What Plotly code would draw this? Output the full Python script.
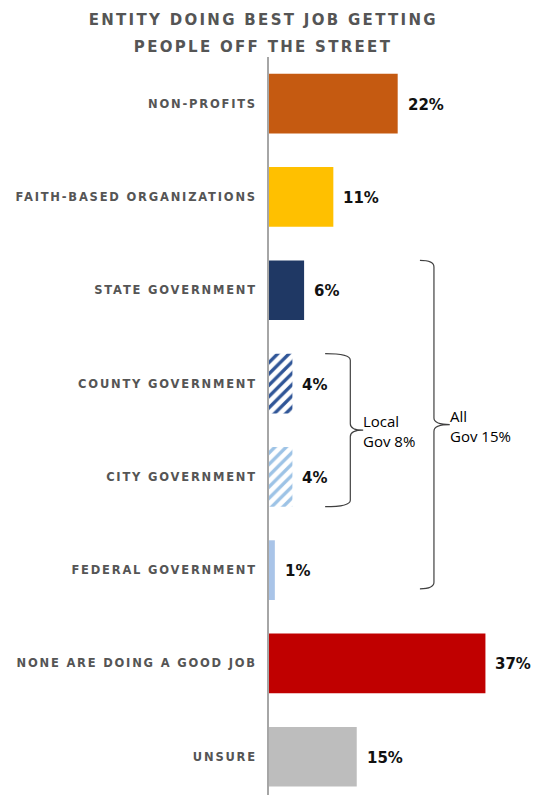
import plotly.graph_objects as go

# Survey: which entity is doing the best job getting people off the street
categories = [
    "NON-PROFITS",
    "FAITH-BASED ORGANIZATIONS",
    "STATE GOVERNMENT",
    "COUNTY GOVERNMENT",
    "CITY GOVERNMENT",
    "FEDERAL GOVERNMENT",
    "NONE ARE DOING A GOOD JOB",
    "UNSURE",
]
shares = [22, 11, 6, 4, 4, 1, 37, 15]
value_labels = ["22%", "11%", "6%", "4%", "4%", "1%", "37%", "15%"]

bar_colors = ["#C55A11", "#FFC000", "#1F3864", "#2F5597", "#9DC3E6",
              "#A9C4E8", "#C00000", "#BDBDBD"]
hatched = [False, False, False, True, True, False, False, False]

# Bracket groups: (first index, last index, label)
local_gov = (3, 4, "Local<br>Gov 8%")
all_gov = (2, 5, "All<br>Gov 15%")

title_lines = ["ENTITY DOING BEST JOB GETTING", "PEOPLE OFF THE STREET"]

GRAY = "#555555"
positions = list(range(len(categories)))
BAR_W = 0.64

fig = go.Figure()
for pos, val, color, is_hatched in zip(positions, shares, bar_colors, hatched):
    marker = dict(color=color, line=dict(width=0))
    if is_hatched:
        marker = dict(
            color="white",
            line=dict(width=0),
            pattern=dict(shape="/", fgcolor=color, bgcolor="white",
                         size=8, solidity=0.42, fillmode="replace"),
        )
    fig.add_trace(go.Bar(x=[val], y=[pos], orientation="h", width=BAR_W,
                         marker=marker, hoverinfo="skip"))

# Value labels just past the end of each bar
for pos, val, lab in zip(positions, shares, value_labels):
    fig.add_annotation(x=val, y=pos, xref="x", yref="y", text=lab,
                       showarrow=False, xanchor="left", yanchor="middle",
                       xshift=8, yshift=-1,
                       font=dict(family="DejaVu Sans", size=15,
                                 color="#111111", weight="bold"))


def brace_path(y_top, y_bot, x_tail, x_line, x_tip, r=0.07):
    y_mid = (y_top + y_bot) / 2
    return (
        f"M {x_tail},{y_top} Q {x_line},{y_top} {x_line},{y_top + r} "
        f"L {x_line},{y_mid - r} Q {x_line},{y_mid} {x_tip},{y_mid} "
        f"Q {x_line},{y_mid} {x_line},{y_mid + r} "
        f"L {x_line},{y_bot - r} Q {x_line},{y_bot} {x_tail},{y_bot}"
    )


half = BAR_W / 2
for (i0, i1, label), (x_tail, x_line, x_tip), bot_adj in [
    (local_gov, (9.6, 13.9, 16.1), 0.0),
    (all_gov, (25.8, 28.2, 30.9), -0.12),
]:
    y_top = i0 - half
    y_bot = i1 + half + bot_adj
    fig.add_shape(type="path",
                  path=brace_path(y_top, y_bot, x_tail, x_line, x_tip),
                  xref="x", yref="y",
                  line=dict(color="#404040", width=1.2))
    fig.add_annotation(x=x_tip, y=(y_top + y_bot) / 2, xref="x",
                       yref="y", text=label, showarrow=False,
                       xanchor="left", yanchor="middle", align="left",
                       xshift=-2, yshift=-1,
                       font=dict(family="Open Sans", size=15,
                                 color="#000000"))

# Two-line heading
for txt, ypx in zip(title_lines, [20, 47]):
    fig.add_annotation(x=-0.022, y=1 + (57 - ypx) / 738, xref="paper",
                       yref="paper", text=txt, showarrow=False,
                       xanchor="center", yanchor="middle",
                       font=dict(family="DejaVu Sans", size=15, color=GRAY,
                                 weight="bold"))

fig.update_layout(
    width=541,
    height=795,
    margin=dict(l=269, r=0, t=57, b=0),
    paper_bgcolor="white",
    plot_bgcolor="white",
    showlegend=False,
    barmode="overlay",
    xaxis=dict(range=[0, 46.5], visible=False, fixedrange=True),
    yaxis=dict(
        range=[7.41, -0.5],
        tickvals=positions,
        ticktext=categories,
        ticks="",
        ticklabelstandoff=8,
        showgrid=False,
        zeroline=False,
        showline=True,
        linecolor="#A6A6A6",
        linewidth=1.5,
        tickfont=dict(family="DejaVu Sans", size=11.5, color=GRAY,
                      weight="bold"),
    ),
)

# Spaced-out capitals for the category names and heading
letter_spacing_js = """
var gd = document.getElementById('{plot_id}');
function spaceLetters() {
  gd.querySelectorAll('.ytick text').forEach(function (t) {
    t.style.letterSpacing = '1.8px';
  });
  gd.querySelectorAll('.annotation-text').forEach(function (t) {
    if (/^[A-Z ]+$/.test(t.textContent)) { t.style.letterSpacing = '2.3px'; }
  });
}
spaceLetters();
gd.on('plotly_afterplot', spaceLetters);
"""

fig.write_html("out.html", post_script=letter_spacing_js)
